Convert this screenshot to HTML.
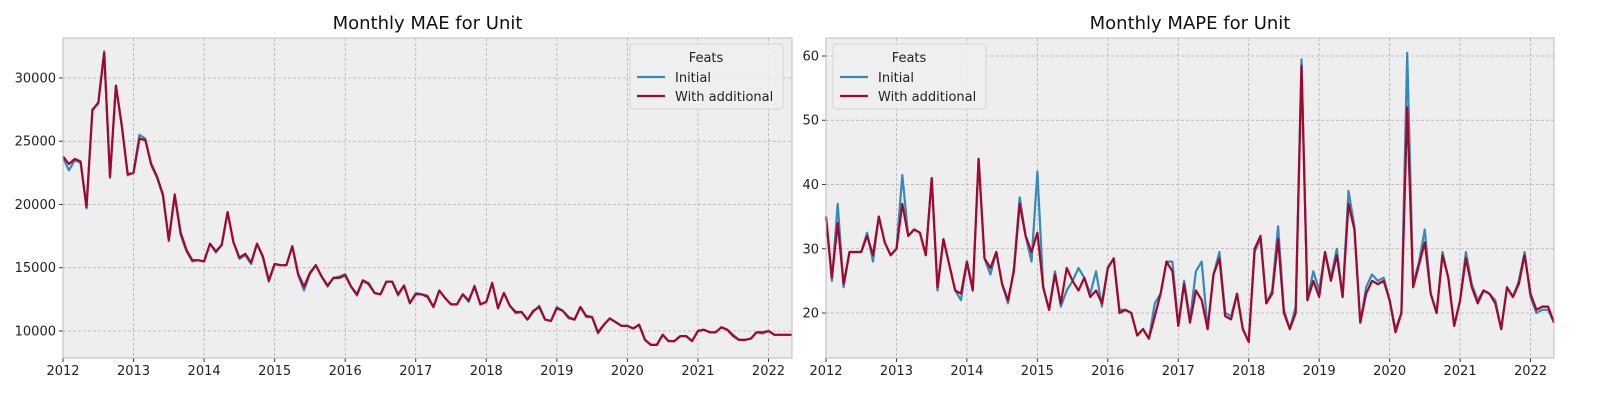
<!DOCTYPE html>
<html><head><meta charset="utf-8"><style>
body{margin:0;background:#fff;font-family:"Liberation Sans","DejaVu Sans",sans-serif}
svg text{font-family:"DejaVu Sans","Liberation Sans",sans-serif}
</style></head><body>
<svg id="c" width="1600" height="400"></svg>
<script>
const months=125;
const maeInit=[23700,22700,23500,23300,19700,27400,28100,32100,22100,29400,26300,22300,
22500,25500,25200,23100,22100,20700,17100,20700,17600,16300,15500,15600,
15500,16900,16200,16800,19400,17000,15700,16000,15300,16900,15800,13900,
15300,15200,15200,16700,14400,13200,14500,15200,14300,13500,14200,14300,
14500,13500,12800,14000,13800,13000,12900,13900,13900,12800,13600,12200,
13000,12900,12800,11900,13200,12600,12100,12100,12900,12300,13600,12100,
12300,13800,11800,13000,12000,11400,11500,10900,11500,12000,10900,10800,
11900,11600,11000,10900,11900,11100,11100,9800,10500,11000,10700,10400,
10400,10200,10500,9300,8900,8900,9700,9200,9200,9600,9600,9200,
10000,10100,9900,9900,10300,10100,9700,9300,9300,9400,9900,9800,
10000,9700,9700,9700,9700];
const maeAdd=[23800,23200,23600,23400,19800,27500,28000,32000,22200,29400,26200,22400,
22500,25200,25100,23200,22200,20800,17200,20800,17800,16400,15600,15600,
15500,16900,16300,16800,19400,17000,15800,16100,15400,16900,15900,14000,
15300,15200,15200,16700,14500,13500,14600,15200,14300,13600,14200,14200,
14400,13500,12900,14000,13700,13000,12900,13900,13900,12900,13600,12200,
12900,12900,12700,11900,13200,12600,12100,12100,12900,12400,13500,12100,
12300,13800,11800,13000,12000,11500,11500,10900,11600,11900,10900,10800,
11800,11600,11100,10900,11900,11200,11100,9900,10500,11000,10700,10400,
10400,10200,10500,9300,8900,8900,9700,9200,9200,9600,9600,9200,
10000,10100,9900,9900,10300,10100,9600,9300,9300,9400,9900,9900,
10000,9700,9700,9700,9700];
const mapeInit=[35,25,37,24,29.5,29.5,29.5,32.5,28,35,31,29,
30,41.5,32,33,32.5,29,41,23.5,31.5,27.5,23.5,22,
28,23.5,44,28.5,26,29.5,24.5,21.5,27,38,32,28,
42,24,20.5,26.5,21,23.5,25,27,25.5,23,26.5,21,
27,28.5,20.5,20.5,20,16.5,17.5,16,21.5,23,28,28,
18,25,19,26.5,28,17.5,26,29.5,20,19.5,23,17.5,
15.5,29.5,31.5,21.5,23.5,33.5,20.5,17.5,21,59.5,22,26.5,
23.5,29.5,25.5,30,22.5,39,33.5,18.5,24,26,25,25.5,
22,17.5,20,60.5,24.5,28,33,23,20,29.5,25.5,18,
22,29.5,24.5,22,23.5,23,22,17.5,24,22.5,25,29.5,
22.5,20,20.5,20.5,18.5];
const mapeAdd=[35,25.5,34,24.5,29.5,29.5,29.5,32,29,35,31,29,
30,37,32,33,32.5,29,41,24,31.5,27.5,23.5,23,
28,23.5,44,28.5,27,29.5,24.5,22,26.5,37,32,29.5,
32.5,24,20.5,26,21.5,27,25,23.5,25.5,22.5,23.5,21.5,
27,28.5,20,20.5,20,16.5,17.5,16,19.5,23,28,26.5,
18,24.5,18.5,23.5,22,17.5,26,28.5,19.5,19,23,17.5,
15.5,30,32,21.5,23,31.5,20,17.5,20,58.5,22,25,
22.5,29.5,25,29,22.5,37,33,18.5,23,25,24.5,25,
22,17,20,52,24,27.5,31,23,20,29,25.5,18,
22,28.5,24,21.5,23.5,23,21.5,17.5,24,22.5,24.5,29,
23,20.5,21,21,18.5];
const years=[2012,2013,2014,2015,2016,2017,2018,2019,2020,2021,2022];
const maeTicks=[10000,15000,20000,25000,30000];
const mapeTicks=[20,30,40,50,60];

const NS="http://www.w3.org/2000/svg";
const svg=document.getElementById('c');
function mk(tag,attrs,parent){const e=document.createElementNS(NS,tag);for(const k in attrs)e.setAttribute(k,attrs[k]);(parent||svg).appendChild(e);return e;}

function panel(opt){
  const {x0,x1,y0,y1,ymin,ymax,title,ticks,s1,s2,legX,key}=opt;
  const g=mk('g',{});
  
  
  const xs=m=>x0+(x1-x0)*m/(months-1);
  const ys=v=>y1-(y1-y0)*(v-ymin)/(ymax-ymin);
  const bg=mk('rect',{x:x0,y:y0,width:x1-x0,height:y1-y0,fill:'#eeeeee'},g);
  
  
  years.forEach(yr=>{
    const X=xs((yr-2012)*12);
    if(X>x1+0.5)return;
    mk('line',{x1:X,x2:X,y1:y0,y2:y1,stroke:'#b2b2b2','stroke-width':0.8,'stroke-dasharray':'3,2'},g);
    mk('line',{x1:X,x2:X,y1:y1,y2:y1+4,stroke:'#333','stroke-width':1},g);
    const t=mk('text',{x:X,y:y1+17,'text-anchor':'middle','font-size':13,fill:'#222'},g);
    t.textContent=yr;
    
    
  });
  ticks.forEach(v=>{
    const Y=ys(v);
    mk('line',{x1:x0,x2:x1,y1:Y,y2:Y,stroke:'#b2b2b2','stroke-width':0.8,'stroke-dasharray':'3,2'},g);
    mk('line',{x1:x0-4,x2:x0,y1:Y,y2:Y,stroke:'#333','stroke-width':1},g);
    const t=mk('text',{x:x0-7,y:Y+4.5,'text-anchor':'end','font-size':13,fill:'#222'},g);
    t.textContent=v;
    
    
  });
  const line=(arr,col,name)=>{
    const p=mk('polyline',{points:arr.map((v,i)=>xs(i).toFixed(1)+','+ys(v).toFixed(1)).join(' '),fill:'none',stroke:col,'stroke-width':2.2,'stroke-linejoin':'round'},g);
    
    
  };
  line(s1,'#348abd',key+'-initial-line');
  line(s2,'#a60628',key+'-additional-line');
  mk('rect',{x:x0,y:y0,width:x1-x0,height:y1-y0,fill:'none',stroke:'#bcbcbc','stroke-width':1},g);
  const tt=mk('text',{x:(x0+x1)/2,y:y0-9,'text-anchor':'middle','font-size':18,fill:'#111'},g);
  tt.textContent=title;
  
  
  const lg=mk('g',{},g);
  
  
  mk('rect',{x:legX,y:y0+6,width:153,height:65,rx:3,fill:'#eeeeee','fill-opacity':0.85,stroke:'#d5d5d5'},lg);
  const lt=mk('text',{x:legX+76,y:y0+24,'text-anchor':'middle','font-size':13,fill:'#222'},lg);
  lt.textContent='Feats';
  [['Initial','#348abd',43],['With additional','#a60628',62]].forEach(([n,c,dy])=>{
    mk('line',{x1:legX+7,x2:legX+35,y1:y0+dy-4,y2:y0+dy-4,stroke:c,'stroke-width':2.2},lg);
    const e=mk('text',{x:legX+45,y:y0+dy+1,'font-size':13,fill:'#222'},lg);
    e.textContent=n;
    
    
  });
}
panel({x0:63,x1:792,y0:38,y1:358,ymin:7866,ymax:33160,title:'Monthly MAE for Unit',ticks:maeTicks,s1:maeInit,s2:maeAdd,legX:630,key:'mae'});
panel({x0:826,x1:1554,y0:38,y1:358,ymin:13.0,ymax:62.8,title:'Monthly MAPE for Unit',ticks:mapeTicks,s1:mapeInit,s2:mapeAdd,legX:833,key:'mape'});
</script>
</body></html>
